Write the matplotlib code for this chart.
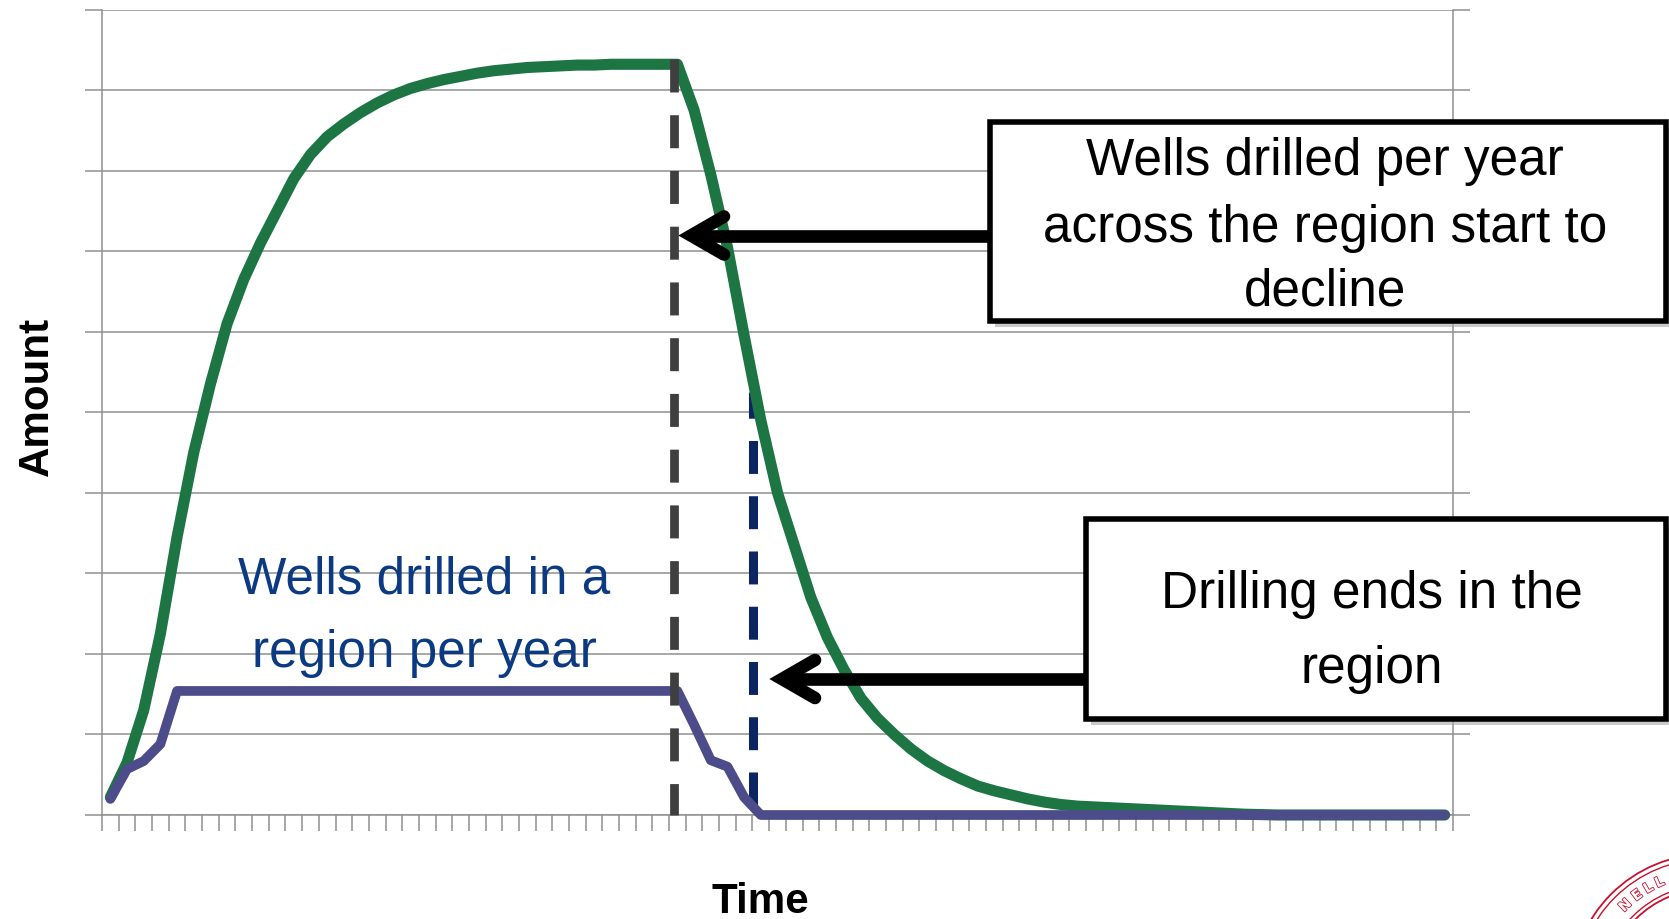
import numpy as np
import matplotlib
matplotlib.use("Agg")
import matplotlib.pyplot as plt
from matplotlib import font_manager as fm
from matplotlib.patches import Rectangle, Circle
from matplotlib.lines import Line2D
from matplotlib.transforms import IdentityTransform
import matplotlib.patheffects as pe

# ---------------- data ----------------
periods = list(range(81))

region_wells_per_year = [
    0.22, 0.65, 1.3, 2.25, 3.45, 4.5, 5.35, 6.1, 6.65, 7.1,
    7.5, 7.9, 8.2, 8.42, 8.58, 8.72, 8.84, 8.94, 9.02, 9.08,
    9.13, 9.17, 9.21, 9.24, 9.26, 9.28, 9.29, 9.30, 9.31, 9.31,
    9.32, 9.32, 9.32, 9.32, 9.32,
    8.75, 7.95, 7.05, 5.95, 4.9, 4.0, 3.35, 2.7, 2.2, 1.8,
    1.45, 1.2, 1.0, 0.82, 0.67, 0.55, 0.45, 0.36, 0.3, 0.25,
    0.2, 0.16, 0.13, 0.11, 0.1, 0.09, 0.08, 0.07, 0.06, 0.05,
    0.04, 0.03, 0.02, 0.01, 0.005,
    0, 0, 0, 0, 0, 0, 0, 0, 0, 0, 0,
]

wells_in_region_per_year = (
    [0.2, 0.57, 0.67, 0.88]
    + [1.54] * 31
    + [1.12, 0.68, 0.6, 0.22]
    + [0] * 42
)

y_ticks = list(range(11))
x_label = "Time"
y_label = "Amount"
series_label = ["Wells drilled in a", "region per year"]
note_decline = ["Wells drilled per year", "across the region start to", "decline"]
note_end = ["Drilling ends in the", "region"]
seal_letters = "NELL"
decline_start = 33.79     # category position of the grey dashed marker
drilling_end = 38.56      # category position of the blue dashed marker

# ---------------- style ----------------
W, H, DPI = 1669, 920, 100
_names = {f.name for f in fm.fontManager.ttflist}
if "Liberation Sans Narrow" in _names:
    FAM = ["Liberation Sans Narrow", "DejaVu Sans"]
    scale = 1.0
else:
    FAM = ["Liberation Sans", "DejaVu Sans"]
    scale = 0.82
NOTE_SIZE = 45 * scale
LABEL_SIZE = 37 * scale

GREEN = "#1c7543"
PURPLE = "#4d4c8a"
GRID = "#8f8f8f"
DARKGREY = "#3f3f3f"
NAVY = "#0b2562"
TEXTBLUE = "#0b3a82"
SEAL = "#c8102e"


def fx(px):
    return px / W


def fy(py):
    return 1 - py / H


fig = plt.figure(figsize=(W / DPI, H / DPI), dpi=DPI)
fig.patch.set_facecolor("white")

ax = fig.add_axes([fx(102), fy(816), (1453 - 102) / W, (816 - 10.5) / H])
ax.set_xlim(-0.5, 80.5)
ax.set_ylim(0, 10)
ax.set_yticks(y_ticks)
ax.set_xticks(np.arange(-0.5, 81, 1))
ax.tick_params(axis="y", left=True, right=True, direction="out", length=12,
               width=1.1, color=GRID, labelleft=False, labelright=False)
ax.tick_params(axis="x", direction="out", length=11.5, width=1.1, color=GRID,
               labelbottom=False)
ax.grid(axis="y", color=GRID, lw=1.1)
ax.set_axisbelow(True)
for s in ["left", "right", "bottom"]:
    ax.spines[s].set_color(GRID)
    ax.spines[s].set_linewidth(1.1)
ax.spines["top"].set_visible(False)

# dashed markers
ax.plot([drilling_end, drilling_end], [5.25, 0], color=NAVY, lw=6.5,
        linestyle=(0.75, (3.65, 2.47)), dash_capstyle="butt", zorder=2,
        clip_on=False)
ax.plot(periods, region_wells_per_year, color=GREEN, lw=8.0,
        solid_joinstyle="round", solid_capstyle="round", zorder=3, clip_on=False)
ax.plot(periods, wells_in_region_per_year, color=PURPLE, lw=7.0,
        solid_joinstyle="round", solid_capstyle="round", zorder=4, clip_on=False)
ax.plot([decline_start, decline_start], [9.385, 0], color=DARKGREY, lw=6.3,
        linestyle=(0, (3.77, 2.6)), dash_capstyle="butt", zorder=5,
        clip_on=False)


# ---------------- text helpers ----------------
def line_text(x, y, s, **kw):
    fig.text(fx(x), fy(y), s, ha="center", va="baseline", family=FAM, **kw)


# series label
for s, yb in zip(series_label, [593, 667]):
    line_text(424, yb, s, size=NOTE_SIZE, color=TEXTBLUE, zorder=12)

# axis labels
fig.text(fx(37), fy(396), y_label, rotation=90, ha="center", va="center",
         family=FAM, weight="bold", size=LABEL_SIZE, color="black")
line_text(760, 913, x_label, size=LABEL_SIZE, weight="bold", color="black")


# ---------------- arrows ----------------
def arrow(y, x_box, x_vertex):
    lw = 9.1
    fig.add_artist(Line2D([fx(x_box + 2), fx(x_vertex + 4)], [fy(y), fy(y)],
                          transform=fig.transFigure, color="black", lw=lw,
                          solid_capstyle="butt", zorder=9))
    fig.add_artist(Line2D([fx(x_vertex + 33), fx(x_vertex), fx(x_vertex + 33)],
                          [fy(y - 19), fy(y), fy(y + 19)],
                          transform=fig.transFigure, color="black", lw=lw,
                          solid_capstyle="round", solid_joinstyle="miter",
                          zorder=9))


arrow(236.5, 990, 691)
arrow(680, 1086, 782)


# ---------------- boxes ----------------
def box(x0, y0, x1, y1, lines, cx, baselines):
    fig.add_artist(Rectangle((fx(x0 + 5), fy(y1 + 6)), (x1 - x0) / W,
                             (y1 - y0) / H, transform=fig.transFigure,
                             facecolor="#a8a8a8", edgecolor="none", alpha=0.6,
                             zorder=10))
    fig.add_artist(Rectangle((fx(x0), fy(y1)), (x1 - x0) / W, (y1 - y0) / H,
                             transform=fig.transFigure, facecolor="white",
                             edgecolor="none", zorder=11))
    for s, yb in zip(lines, baselines):
        line_text(cx, yb, s, size=NOTE_SIZE, color="black", zorder=12)
    fig.add_artist(Rectangle((fx(x0), fy(y1)), (x1 - x0) / W, (y1 - y0) / H,
                             transform=fig.transFigure, facecolor="none",
                             edgecolor="black", lw=4.0, zorder=13))


box(990, 123, 1666, 322, note_decline, 1325, [175, 242, 306])
box(1086, 520, 1666, 720, note_end, 1372, [608, 683])

# ---------------- corner seal fragment ----------------
cx, cy = 1708, H - 992
for r, lw in [(137, 1.3), (132, 1.0), (106, 1.0), (102, 1.3)]:
    fig.add_artist(Circle((cx, cy), r, transform=IdentityTransform(),
                          fill=False, edgecolor=SEAL, lw=lw, zorder=14))
for ch, ang in zip(seal_letters, [134, 126.5, 120, 114]):
    a = np.deg2rad(ang)
    fig.text(cx + 119 * np.cos(a), cy + 119 * np.sin(a), ch,
             transform=IdentityTransform(), rotation=ang - 90,
             ha="center", va="center", size=10, weight="bold",
             family=["DejaVu Sans"], color="white", zorder=15,
             path_effects=[pe.withStroke(linewidth=1.2, foreground=SEAL)])

fig.savefig("out.png", dpi=DPI)
